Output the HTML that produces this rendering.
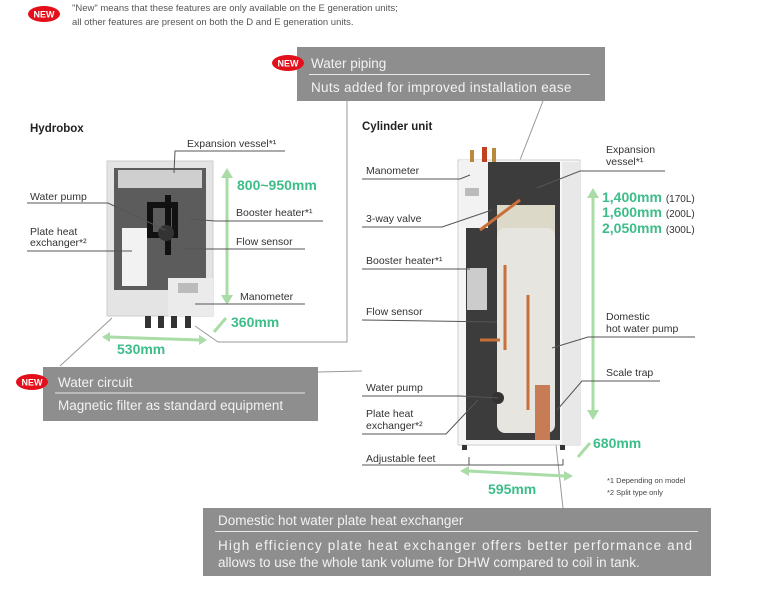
<!DOCTYPE html>
<html><head><style>
body{margin:0;background:#fff}
svg text{font-family:"Liberation Sans",sans-serif}
</style></head><body>
<svg width="771" height="607" viewBox="0 0 771 607" xmlns="http://www.w3.org/2000/svg">
<!-- top note -->
<ellipse cx="44" cy="14" rx="16" ry="8" fill="#e3101b"/>
<text x="44" y="17.5" font-size="9" font-weight="bold" fill="#fff" text-anchor="middle">NEW</text>
<text x="72" y="11" font-size="9.5" fill="#555">"New" means that these features are only available on the E generation units;</text>
<text x="72" y="25" font-size="9.5" fill="#555">all other features are present on both the D and E generation units.</text>

<!-- connector lines -->
<g stroke="#999" stroke-width="1" fill="none">
<polyline points="347,101 347,342 218,342 195,326"/>
<line x1="543" y1="101" x2="520" y2="160"/>
<line x1="318" y1="372" x2="362" y2="371"/>
<line x1="60" y1="366" x2="112" y2="318"/>
<line x1="556" y1="445" x2="563" y2="508"/>
</g>

<!-- Water piping box -->
<rect x="297" y="47" width="308" height="54" fill="#8e8e8e"/>
<ellipse cx="288" cy="63" rx="16" ry="8" fill="#e3101b"/>
<text x="288" y="66.5" font-size="9" font-weight="bold" fill="#fff" text-anchor="middle">NEW</text>
<text x="311" y="68" font-size="13.5" fill="#f2f2f2">Water piping</text>
<line x1="309" y1="74.5" x2="590" y2="74.5" stroke="#e8e8e8"/>
<text x="311" y="92" font-size="13.5" fill="#f2f2f2" letter-spacing="0.3">Nuts added for improved installation ease</text>

<!-- Hydrobox -->
<text x="30" y="132" font-size="11.5" font-weight="bold" fill="#222">Hydrobox</text>
<rect x="107" y="161" width="106" height="155" fill="#e4e4e4" stroke="#ccc"/>
<rect x="114" y="168" width="92" height="122" fill="#5c5c5c"/>
<rect x="118" y="170" width="84" height="18" fill="#cfcfcf"/>
<rect x="122" y="228" width="25" height="58" fill="#f2f2f2"/>
<path d="M150 205 h25 v30 h-25z M168 195 v60" stroke="#111" stroke-width="6" fill="none"/>
<circle cx="166" cy="233" r="8" fill="#333"/>
<rect x="168" y="278" width="45" height="38" fill="#ebebeb"/>
<rect x="178" y="283" width="20" height="10" fill="#bbb"/>
<rect x="145" y="316" width="6" height="12" fill="#333"/><rect x="158" y="316" width="6" height="12" fill="#333"/><rect x="171" y="316" width="6" height="12" fill="#333"/><rect x="185" y="316" width="6" height="12" fill="#333"/>
<!-- hydro dims -->
<g stroke="#a9dca6" stroke-width="3" fill="#a9dca6">
<line x1="227" y1="176" x2="227" y2="297"/>
<polygon points="221,178 233,178 227,168" stroke="none"/>
<polygon points="221,295 233,295 227,305" stroke="none"/>
<line x1="109" y1="337" x2="200" y2="340"/>
<polygon points="110,332 110,342 102,337" stroke="none"/>
<polygon points="199,335 199,345 207,340" stroke="none"/>
<line x1="214" y1="332" x2="226" y2="318"/>
</g>
<text x="237" y="190" font-size="14" font-weight="bold" fill="#3dbd8a">800~950mm</text>
<text x="231" y="327" font-size="14" font-weight="bold" fill="#3dbd8a">360mm</text>
<text x="117" y="354" font-size="14" font-weight="bold" fill="#3dbd8a">530mm</text>
<g font-size="10.5" fill="#333">
<text x="187" y="147">Expansion vessel*¹</text>
<text x="30" y="200">Water pump</text>
<text x="30" y="235">Plate heat</text>
<text x="30" y="246">exchanger*²</text>
<text x="236" y="216">Booster heater*¹</text>
<text x="236" y="245">Flow sensor</text>
<text x="240" y="300">Manometer</text>
</g>
<g stroke="#555" stroke-width="1" fill="none">
<polyline points="285,151 175,151 174,173"/>
<polyline points="27,203 108,203 165,230"/>
<polyline points="27,251 132,251"/>
<polyline points="323,221 215,221 190,219"/>
<polyline points="305,249 215,249 184,249"/>
<polyline points="305,304 195,304"/>
</g>

<!-- Water circuit box -->
<rect x="43" y="367" width="275" height="54" fill="#8e8e8e"/>
<ellipse cx="32" cy="382" rx="16" ry="8" fill="#e3101b"/>
<text x="32" y="385.5" font-size="9" font-weight="bold" fill="#fff" text-anchor="middle">NEW</text>
<text x="58" y="387" font-size="13.5" fill="#f2f2f2">Water circuit</text>
<line x1="55" y1="393" x2="305" y2="393" stroke="#e8e8e8"/>
<text x="58" y="410" font-size="13.5" fill="#f2f2f2">Magnetic filter as standard equipment</text>

<!-- Cylinder -->
<text x="362" y="130" font-size="11.5" font-weight="bold" fill="#222">Cylinder unit</text>
<rect x="458" y="160" width="122" height="285" fill="#f7f7f7" stroke="#ccc"/>
<rect x="562" y="162" width="18" height="283" fill="#e8e8e8"/>
<rect x="466" y="162" width="94" height="278" fill="#3c3c3c"/>
<rect x="497" y="205" width="58" height="30" fill="#dcd9c8"/>
<rect x="497" y="228" width="58" height="205" rx="8" fill="#e6e5e0"/>
<rect x="460" y="160" width="28" height="68" fill="#f2f2f2"/>
<rect x="465" y="188" width="14" height="8" fill="#bbb"/>
<rect x="467" y="268" width="20" height="42" fill="#ccc"/>
<g stroke="#c8703a" stroke-width="3" fill="none">
<path d="M480 230 Q500 215 520 200"/>
<path d="M505 265 V350 M528 295 V410 M480 340 h20"/>
</g>
<rect x="535" y="385" width="15" height="55" fill="#c77c55"/>
<circle cx="498" cy="398" r="6" fill="#333"/>
<rect x="470" y="150" width="4" height="12" fill="#b88a3a"/><rect x="482" y="147" width="5" height="15" fill="#c04020"/><rect x="492" y="148" width="4" height="14" fill="#b88a3a"/>
<rect x="462" y="445" width="5" height="5" fill="#333"/><rect x="560" y="445" width="5" height="5" fill="#333"/>
<!-- cyl dims -->
<g stroke="#a9dca6" stroke-width="3" fill="#a9dca6">
<line x1="593" y1="196" x2="593" y2="412"/>
<polygon points="587,198 599,198 593,188" stroke="none"/>
<polygon points="587,410 599,410 593,420" stroke="none"/>
<line x1="468" y1="471" x2="565" y2="476"/>
<polygon points="469,466 469,476 460,471" stroke="none"/>
<polygon points="564,471 564,481 573,476" stroke="none"/>
<line x1="578" y1="457" x2="590" y2="443"/>
</g>
<text x="602" y="202" font-size="14" font-weight="bold" fill="#3dbd8a">1,400mm <tspan font-size="10" font-weight="normal" fill="#333">(170L)</tspan></text>
<text x="602" y="217" font-size="14" font-weight="bold" fill="#3dbd8a">1,600mm <tspan font-size="10" font-weight="normal" fill="#333">(200L)</tspan></text>
<text x="602" y="233" font-size="14" font-weight="bold" fill="#3dbd8a">2,050mm <tspan font-size="10" font-weight="normal" fill="#333">(300L)</tspan></text>
<text x="593" y="448" font-size="14" font-weight="bold" fill="#3dbd8a">680mm</text>
<text x="488" y="494" font-size="14" font-weight="bold" fill="#3dbd8a">595mm</text>
<g font-size="10.5" fill="#333">
<text x="366" y="174">Manometer</text>
<text x="366" y="222">3-way valve</text>
<text x="366" y="264">Booster heater*¹</text>
<text x="366" y="315">Flow sensor</text>
<text x="366" y="391">Water pump</text>
<text x="366" y="417">Plate heat</text>
<text x="366" y="429">exchanger*²</text>
<text x="366" y="462">Adjustable feet</text>
<text x="606" y="153">Expansion</text>
<text x="606" y="165">vessel*¹</text>
<text x="606" y="320">Domestic</text>
<text x="606" y="332">hot water pump</text>
<text x="606" y="376">Scale trap</text>
</g>
<g font-size="7.5" fill="#444">
<text x="607" y="483">*1 Depending on model</text>
<text x="607" y="495">*2 Split type only</text>
</g>
<g stroke="#555" stroke-width="1" fill="none">
<polyline points="362,179 460,179 470,175"/>
<polyline points="362,227 442,227 492,210"/>
<polyline points="362,269 470,269"/>
<polyline points="362,320 497,322"/>
<polyline points="362,396 460,396 498,398"/>
<polyline points="362,434 446,434 478,400"/>
<polyline points="362,465 563,465"/>
<line x1="469" y1="465" x2="469" y2="457"/><line x1="563" y1="465" x2="563" y2="459"/>
<polyline points="665,171 580,171 537,188"/>
<polyline points="695,337 588,337 552,348"/>
<polyline points="660,381 582,381 557,410"/>
</g>

<!-- Bottom box -->
<rect x="203" y="508" width="508" height="68" fill="#8e8e8e"/>
<text x="218" y="525" font-size="13.5" fill="#f2f2f2">Domestic hot water plate heat exchanger</text>
<line x1="215" y1="531.5" x2="698" y2="531.5" stroke="#e8e8e8"/>
<text x="218" y="550" font-size="13.5" fill="#f2f2f2" textLength="474" lengthAdjust="spacing">High efficiency plate heat exchanger offers better performance and</text>
<text x="218" y="567" font-size="13.5" fill="#f2f2f2">allows to use the whole tank volume for DHW compared to coil in tank.</text>
</svg>
</body></html>
